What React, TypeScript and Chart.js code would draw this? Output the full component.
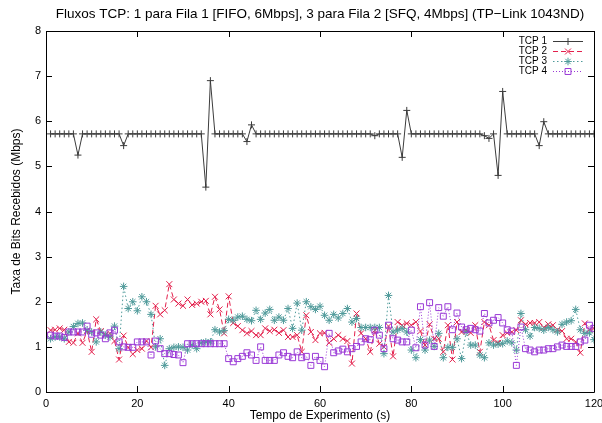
import React, { useEffect, useRef } from "react";
import { Chart, registerables } from "chart.js";
import { drawPoint } from "chart.js/helpers";

Chart.register(...registerables);

const TITLE = "Fluxos TCP: 1 para Fila 1 [FIFO, 6Mbps], 3 para Fila 2 [SFQ, 4Mbps] (TP\u2212Link 1043ND)";
const X_TITLE = "Tempo de Experimento (s)";
const Y_TITLE = "Taxa de Bits Recebidos (Mbps)";
const SERIES_NAMES = ["TCP 1", "TCP 2", "TCP 3", "TCP 4"];

const TIME = [
  1, 2, 3, 4, 5, 6, 7, 8, 9, 10, 11, 12, 13, 14, 15, 16, 17, 18, 19, 20,
  21, 22, 23, 24, 25, 26, 27, 28, 29, 30, 31, 32, 33, 34, 35, 36, 37, 38, 39, 40,
  41, 42, 43, 44, 45, 46, 47, 48, 49, 50, 51, 52, 53, 54, 55, 56, 57, 58, 59, 60,
  61, 62, 63, 64, 65, 66, 67, 68, 69, 70, 71, 72, 73, 74, 75, 76, 77, 78, 79, 80,
  81, 82, 83, 84, 85, 86, 87, 88, 89, 90, 91, 92, 93, 94, 95, 96, 97, 98, 99, 100,
  101, 102, 103, 104, 105, 106, 107, 108, 109, 110, 111, 112, 113, 114, 115, 116, 117, 118, 119, 120,
];

const TCP1 = [
  5.72, 5.72, 5.72, 5.72, 5.72, 5.72, 5.25, 5.72, 5.72, 5.72,
  5.72, 5.72, 5.72, 5.72, 5.72, 5.72, 5.46, 5.72, 5.72, 5.72,
  5.72, 5.72, 5.72, 5.72, 5.72, 5.72, 5.72, 5.72, 5.72, 5.72,
  5.72, 5.72, 5.72, 5.72, 4.54, 6.90, 5.72, 5.72, 5.72, 5.72,
  5.72, 5.72, 5.72, 5.55, 5.92, 5.72, 5.72, 5.72, 5.72, 5.72,
  5.72, 5.72, 5.72, 5.72, 5.72, 5.72, 5.72, 5.72, 5.72, 5.72,
  5.72, 5.72, 5.72, 5.72, 5.72, 5.72, 5.72, 5.72, 5.72, 5.72,
  5.72, 5.68, 5.72, 5.72, 5.72, 5.72, 5.72, 5.20, 6.24, 5.72,
  5.72, 5.72, 5.72, 5.72, 5.72, 5.72, 5.72, 5.72, 5.72, 5.72,
  5.72, 5.72, 5.72, 5.72, 5.72, 5.68, 5.62, 5.72, 4.80, 6.66,
  5.72, 5.72, 5.72, 5.72, 5.72, 5.72, 5.72, 5.46, 5.99, 5.72,
  5.72, 5.72, 5.72, 5.72, 5.72, 5.72, 5.72, 5.72, 5.72, 5.72,
];

const TCP2 = [
  1.37, 1.38, 1.41, 1.38, 1.11, 1.09, 1.30, 1.09, 1.35, 0.89,
  1.61, 1.35, 1.27, 1.30, 1.13, 0.72, 1.25, 0.99, 0.84, 0.93,
  0.96, 1.13, 0.99, 1.91, 1.72, 1.81, 2.39, 2.05, 1.96, 1.91,
  2.05, 1.93, 1.96, 2.00, 2.02, 1.72, 2.11, 1.83, 1.30, 2.12,
  1.53, 1.46, 1.37, 1.30, 1.35, 1.26, 1.26, 1.41, 1.35, 1.38,
  1.31, 1.37, 1.22, 1.22, 1.26, 0.89, 1.70, 1.33, 1.15, 1.30,
  1.31, 1.09, 1.18, 1.26, 1.18, 1.13, 0.63, 1.74, 1.30, 1.18,
  0.89, 1.37, 1.07, 1.00, 1.46, 0.79, 1.55, 1.48, 1.52, 1.48,
  1.55, 1.35, 1.04, 1.50, 1.18, 1.18, 0.89, 1.48, 0.72, 1.55,
  1.33, 1.37, 1.31, 1.48, 0.89, 1.55, 1.48, 1.15, 1.09, 1.26,
  1.31, 1.33, 1.37, 1.59, 1.50, 1.53, 1.53, 1.55, 1.43, 1.50,
  1.48, 1.38, 1.35, 1.18, 1.18, 1.11, 0.87, 1.52, 1.38, 1.41,
];

const TCP3 = [
  1.18, 1.22, 1.22, 1.18, 1.33, 1.45, 1.52, 1.53, 1.37, 1.33,
  1.11, 1.33, 1.26, 1.22, 1.46, 0.96, 2.34, 1.85, 2.00, 1.80,
  2.11, 2.00, 1.72, 1.00, 1.18, 0.59, 0.96, 0.99, 1.00, 0.99,
  0.93, 1.04, 0.96, 1.09, 1.11, 1.11, 1.38, 1.33, 1.36, 1.61,
  1.59, 1.66, 1.68, 1.61, 1.58, 1.81, 1.61, 1.75, 1.83, 1.59,
  1.66, 1.59, 1.85, 1.41, 1.97, 1.37, 2.00, 1.89, 1.83, 1.90,
  1.70, 1.59, 1.72, 1.64, 1.74, 1.85, 1.55, 1.63, 1.43, 1.43,
  1.43, 1.43, 1.43, 0.85, 2.14, 1.33, 1.37, 1.41, 1.33, 0.93,
  0.76, 1.16, 0.93, 1.15, 1.01, 1.30, 0.76, 0.99, 0.99, 1.18,
  0.74, 1.33, 1.04, 1.04, 0.82, 0.76, 1.09, 1.04, 1.06, 1.07,
  1.13, 1.09, 0.93, 1.74, 1.38, 1.24, 1.43, 1.41, 1.37, 1.43,
  1.38, 1.33, 1.50, 1.55, 1.58, 1.83, 1.38, 1.30, 1.31, 1.16,
];

const TCP4 = [
  1.26, 1.24, 1.24, 1.21, 1.33, 1.33, 1.33, 1.33, 1.46, 1.28,
  1.31, 1.26, 1.18, 1.31, 1.37, 1.11, 1.00, 0.99, 0.99, 1.11,
  1.11, 1.11, 0.82, 1.13, 0.96, 0.85, 0.85, 0.83, 0.82, 0.65,
  1.07, 1.07, 1.07, 1.07, 1.07, 1.07, 1.07, 1.07, 1.07, 0.74,
  0.67, 0.74, 0.79, 0.87, 0.82, 0.70, 1.00, 0.70, 0.70, 0.70,
  0.82, 0.87, 0.79, 0.76, 0.89, 0.76, 0.79, 0.59, 0.79, 0.70,
  0.56, 1.30, 0.87, 0.91, 0.95, 0.89, 0.96, 1.01, 1.11, 1.18,
  1.16, 1.37, 1.26, 0.96, 1.48, 1.18, 1.15, 1.11, 1.11, 1.37,
  0.98, 1.89, 1.04, 1.98, 1.01, 1.87, 1.68, 1.89, 1.38, 1.75,
  1.44, 1.38, 1.41, 1.38, 1.35, 1.74, 1.53, 1.59, 1.65, 1.53,
  1.38, 1.35, 0.59, 1.44, 0.96, 0.93, 0.89, 0.93, 0.93, 0.96,
  0.96, 1.00, 1.04, 1.01, 1.01, 1.01, 1.11, 1.15, 1.48, 1.41,
];

const X_TICK_STEP = 20;
const Y_TICK_STEP = 1;

const FONT = '"Liberation Sans", Arial, Helvetica, sans-serif';

const framePlugin = {
  id: "gnuFrame",
  afterDraw(chart: any) {
    const { ctx, chartArea } = chart;
    const { left, right, top, bottom } = chartArea;
    const xs = chart.scales.x;
    const ys = chart.scales.y;
    ctx.save();
    ctx.strokeStyle = "#000";
    ctx.lineWidth = 1;
    ctx.setLineDash([]);
    ctx.beginPath();
    ctx.rect(left + 0.5, top + 0.5, right - left, bottom - top);
    ctx.stroke();
    const TL = 6;
    ctx.beginPath();
    xs.ticks.forEach((t: any) => {
      const px = Math.round(xs.getPixelForValue(t.value)) + 0.5;
      ctx.moveTo(px, bottom);
      ctx.lineTo(px, bottom - TL);
      ctx.moveTo(px, top);
      ctx.lineTo(px, top + TL);
    });
    ys.ticks.forEach((t: any) => {
      const py = Math.round(ys.getPixelForValue(t.value)) + 0.5;
      ctx.moveTo(left, py);
      ctx.lineTo(left + TL, py);
      ctx.moveTo(right, py);
      ctx.lineTo(right - TL, py);
    });
    ctx.stroke();

    // legend (gnuplot style: text left, sample right)
    const textRight = right - 47;
    const x0 = right - 41;
    const x1 = right - 11;
    chart.data.datasets.forEach((ds: any, i: number) => {
      const y = top + 10 + i * 10;
      ctx.save();
      ctx.font = `10px ${FONT}`;
      ctx.fillStyle = "#000";
      ctx.textAlign = "right";
      ctx.textBaseline = "middle";
      ctx.fillText(ds.label, textRight, y);
      ctx.strokeStyle = ds.borderColor;
      ctx.lineWidth = 1;
      ctx.setLineDash(ds.borderDash || []);
      ctx.beginPath();
      ctx.moveTo(x0, y + 0.5);
      ctx.lineTo(x1, y + 0.5);
      ctx.stroke();
      ctx.setLineDash([]);
      ctx.strokeStyle = ds.pointBorderColor;
      ctx.fillStyle = "rgba(0,0,0,0)";
      drawPoint(ctx, { pointStyle: ds.pointStyle, rotation: 0, radius: ds.pointRadius, borderWidth: 1 } as any, (x0 + x1) / 2, y + 0.5);
      ctx.restore();
    });
    ctx.restore();
  },
};

function mk(label: string, values: number[], color: string, dash: number[], style: string, radius: number, order: number) {
  return {
    label,
    data: TIME.map((t, i) => ({ x: t, y: values[i] })),
    borderColor: color,
    backgroundColor: "rgba(0,0,0,0)",
    borderWidth: 1,
    borderDash: dash,
    pointStyle: style,
    pointRadius: radius,
    pointBorderColor: color,
    pointBackgroundColor: "rgba(0,0,0,0)",
    pointBorderWidth: 1,
    tension: 0,
    fill: false,
    order,
  };
}

export default function App() {
  const ref = useRef<HTMLCanvasElement | null>(null);
  useEffect(() => {
    if (!ref.current) return;
    const chart = new Chart(ref.current, {
      type: "line",
      data: {
        datasets: [
          mk(SERIES_NAMES[0], TCP1, "#3c3c3c", [], "cross", 3.5, 3),
          mk(SERIES_NAMES[1], TCP2, "#e3204c", [5, 3], "crossRot", 4.2, 2),
          mk(SERIES_NAMES[2], TCP3, "#4f9a9a", [1.5, 2.5], "star", 3.8, 1),
          mk(SERIES_NAMES[3], TCP4, "#9a3ad6", [1, 2], "rect", 4.2, 0),
        ] as any,
      },
      options: {
        animation: false,
        responsive: true,
        maintainAspectRatio: false,
        devicePixelRatio: 1,
        events: [],
        layout: { padding: { left: 0, right: 8, top: 0, bottom: 0 } },
        plugins: {
          legend: { display: false },
          tooltip: { enabled: false },
          title: {
            display: true,
            text: TITLE,
            color: "#000",
            font: { family: FONT, size: 13.5, weight: "normal", lineHeight: 1.2 },
            padding: { top: 6, bottom: 8.8 },
            fullSize: false,
          } as any,
        },
        scales: {
          x: {
            type: "linear",
            min: 0,
            max: 120,
            ticks: {
              stepSize: X_TICK_STEP,
              color: "#000",
              font: { family: FONT, size: 11 },
              padding: 5,
              maxRotation: 0,
              autoSkip: false,
            },
            grid: { display: false, drawTicks: false },
            border: { display: false },
            title: {
              display: true,
              text: X_TITLE,
              color: "#000",
              font: { family: FONT, size: 12 },
              padding: { top: 0, bottom: 0 },
            },
            afterFit(s: any) {
              s.height = 31;
              s.paddingLeft = 0;
              s.paddingRight = 0;
            },
          },
          y: {
            type: "linear",
            min: 0,
            max: 8,
            ticks: {
              stepSize: Y_TICK_STEP,
              color: "#000",
              font: { family: FONT, size: 11 },
              padding: 5,
            },
            grid: { display: false, drawTicks: false },
            border: { display: false },
            title: {
              display: true,
              text: Y_TITLE,
              color: "#000",
              font: { family: FONT, size: 12 },
              padding: { top: 9, bottom: 0 },
            },
            afterFit(s: any) {
              s.width = 46;
              s.paddingTop = 0;
              s.paddingBottom = 0;
            },
          },
        },
      } as any,
      plugins: [framePlugin],
    });
    return () => chart.destroy();
  }, []);
  return (
    <div style={{ position: "absolute", left: 0, top: 0, width: 602, height: 423, background: "#fff" }}>
      <canvas ref={ref} />
    </div>
  );
}
